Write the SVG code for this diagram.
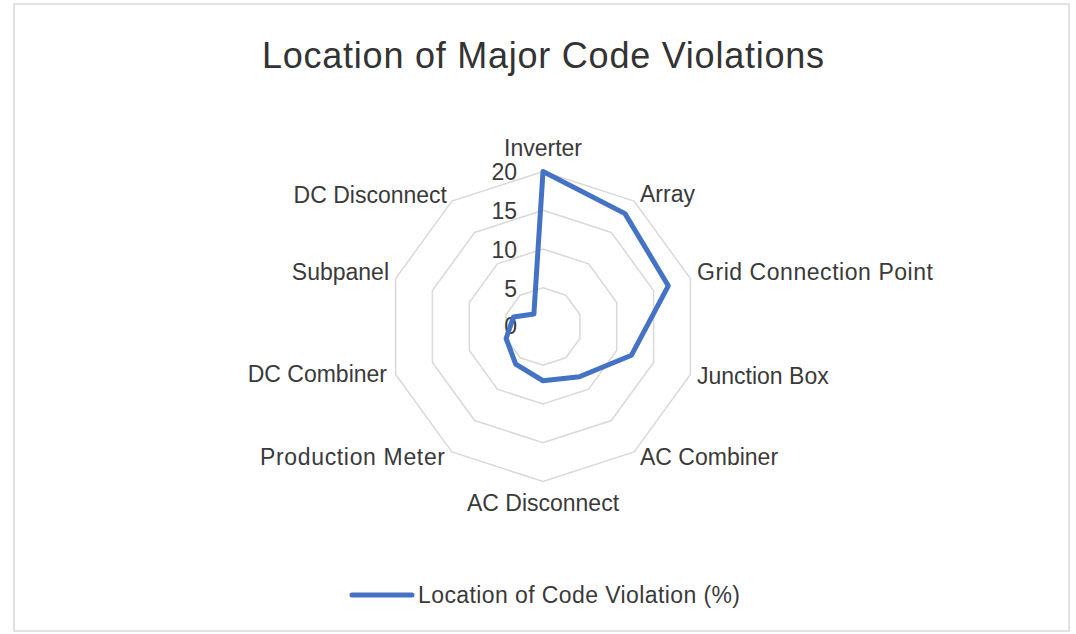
<svg xmlns="http://www.w3.org/2000/svg" width="1076" height="634" viewBox="0 0 1076 634">
  <style>
    .grid { fill: none; stroke: #d9d9d9; stroke-width: 1.5; }
    .series { fill: none; stroke: #4472c4; stroke-width: 5; stroke-linejoin: round; stroke-linecap: round; }
    .lbl { font-family: "Liberation Sans", Arial, sans-serif; font-size: 23px; fill: #3a3a3a; }
    .tick { font-family: "Liberation Sans", Arial, sans-serif; font-size: 23px; fill: #3a3a3a; text-anchor: end; }
    .title { font-family: "Liberation Sans", Arial, sans-serif; font-size: 36px; fill: #333333; text-anchor: middle; }
  </style>
  <rect x="0" y="0" width="1076" height="634" fill="#ffffff"/>
  <rect id="chart-frame" x="14" y="4" width="1055" height="627" fill="#ffffff" stroke="#d9d9d9" stroke-width="1.5"/>

  <text id="title" class="title" x="543" y="68" textLength="562" lengthAdjust="spacing">Location of Major Code Violations</text>

  <g id="gridlines">
    <polygon class="grid" points="543,171.5 634.1,201.1 690.4,278.6 690.4,374.4 634.1,451.9 543,481.5 451.9,451.9 395.6,374.4 395.6,278.6 451.9,201.1"/>
    <polygon class="grid" points="543,210.25 611.3,232.5 653.6,290.6 653.6,362.4 611.3,420.5 543,442.75 474.7,420.5 432.4,362.4 432.4,290.6 474.7,232.5"/>
    <polygon class="grid" points="543,249 588.6,263.8 616.7,302.6 616.7,350.4 588.6,389.2 543,404 497.4,389.2 469.3,350.4 469.3,302.6 497.4,263.8"/>
    <polygon class="grid" points="543,287.75 565.8,295.2 579.9,314.5 579.9,338.5 565.8,357.8 543,365.25 520.2,357.8 506.1,338.5 506.1,314.5 520.2,295.2"/>
  </g>

  <g id="tick-labels">
    <text class="tick" x="517" y="180">20</text>
    <text class="tick" x="517" y="219">15</text>
    <text class="tick" x="517" y="258">10</text>
    <text class="tick" x="517" y="297">5</text>
    <text class="tick" x="517" y="334">0</text>
  </g>

  <g id="connectors">
    <polygon id="series-location" class="series" points="543,171.5 625,213.6 668.3,285.8 631.5,355.2 579.4,376.7 543,380.75 515.7,364.1 506.1,338.5 513.5,316.9 533.9,314"/>
  </g>

  <g id="node-inverter"><text class="lbl" x="543" y="156" text-anchor="middle">Inverter</text></g>
  <g id="node-array"><text class="lbl" x="640" y="202">Array</text></g>
  <g id="node-grid-connection-point"><text class="lbl" x="697" y="280" textLength="236" lengthAdjust="spacing">Grid Connection Point</text></g>
  <g id="node-junction-box"><text class="lbl" x="697" y="384">Junction Box</text></g>
  <g id="node-ac-combiner"><text class="lbl" x="640" y="465">AC Combiner</text></g>
  <g id="node-ac-disconnect"><text class="lbl" x="543" y="511" text-anchor="middle">AC Disconnect</text></g>
  <g id="node-production-meter"><text class="lbl" x="445" y="465" text-anchor="end" textLength="185" lengthAdjust="spacing">Production Meter</text></g>
  <g id="node-dc-combiner"><text class="lbl" x="387" y="382" text-anchor="end">DC Combiner</text></g>
  <g id="node-subpanel"><text class="lbl" x="389" y="280" text-anchor="end">Subpanel</text></g>
  <g id="node-dc-disconnect"><text class="lbl" x="447" y="203" text-anchor="end">DC Disconnect</text></g>

  <g id="legend">
    <line x1="352" y1="595" x2="412" y2="595" stroke="#4472c4" stroke-width="5" stroke-linecap="round"/>
    <text class="lbl" x="418" y="603" textLength="322" lengthAdjust="spacing">Location of Code Violation (%)</text>
  </g>
</svg>
